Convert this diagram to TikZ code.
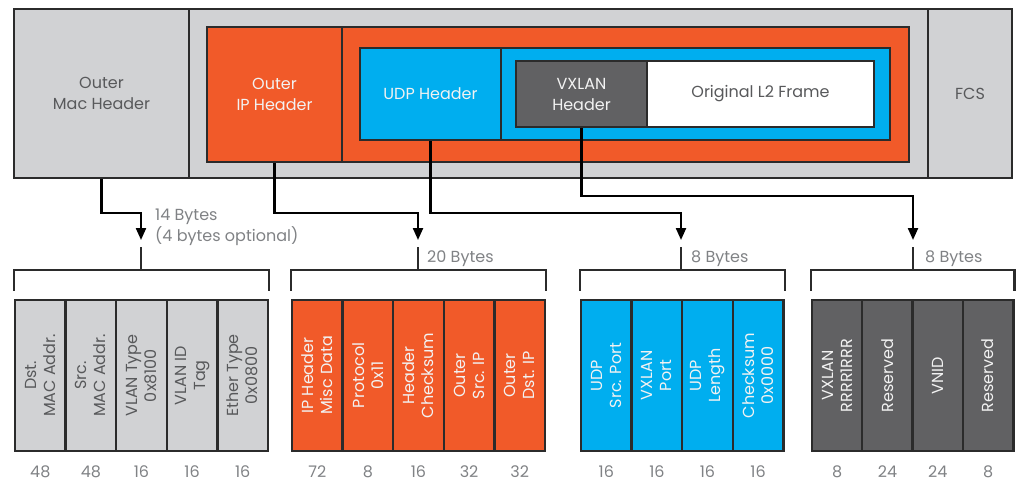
\documentclass[tikz,border=0pt]{standalone}
\usepackage{fontspec}
\setmainfont{Poppins}
\usetikzlibrary{arrows.meta,positioning}

\definecolor{hdrgray}{HTML}{D1D2D4}
\definecolor{iporange}{HTML}{F15A29}
\definecolor{udpblue}{HTML}{00AEEF}
\definecolor{vxgray}{HTML}{616163}
\definecolor{edgecol}{HTML}{2B2B2B}
\definecolor{txtgray}{HTML}{58595B}
\definecolor{numgray}{HTML}{808285}
\definecolor{lighttxt}{HTML}{F2F2F2}

\begin{document}
\begin{tikzpicture}[
        x=1pt, y=-1pt,
        every node/.style={font=\fontsize{16}{21}\selectfont},
        box/.style={draw=edgecol, line width=2.4pt, inner sep=0pt, align=center},
        field/.style={box, rotate=90, minimum width=151pt, minimum height=50.6pt, font=\fontsize{16}{19}\selectfont},
        link/.style={line width=2.2pt, -{Triangle[length=12pt,width=10pt]}},
        brk/.style={draw=edgecol, line width=2.2pt},
        num/.style={text=numgray, inner sep=0pt},
        bytes/.style={text=numgray, align=left, anchor=base west, inner sep=0pt},
    ]
    \useasboundingbox (0,0) rectangle (1016,482);

    % frame
    \node[box, fill=hdrgray, text=txtgray, minimum width=175pt, minimum height=169pt] (mac) at (101.5,93.5) {Outer\\Mac Header};
    \node[box, fill=hdrgray, minimum width=739pt, minimum height=169pt] (mid) at (558.5,93.5) {};
    \node[box, fill=hdrgray, text=txtgray, minimum width=84pt, minimum height=169pt] (fcs) at (970,93.5) {FCS};
    \node[box, fill=iporange, text=lighttxt, minimum width=135pt, minimum height=135pt] (iphdr) at (274.5,94.5) {Outer\\IP Header};
    \node[box, fill=iporange, minimum width=567pt, minimum height=135pt] (ippay) at (625.5,94.5) {};
    \node[box, fill=udpblue, text=lighttxt, minimum width=141pt, minimum height=92pt] (udp) at (430.5,94) {UDP Header};
    \node[box, fill=udpblue, minimum width=389pt, minimum height=92pt] (udppay) at (695.5,94) {};
    \node[box, fill=vxgray, text=lighttxt, minimum width=131pt, minimum height=66pt] (vxlan) at (581.5,94) {VXLAN\\Header};
    \node[box, fill=white, text=txtgray, minimum width=227pt, minimum height=66pt] (l2) at (760.5,94) {Original L2 Frame};

    % arrow ends
    \coordinate (macin) at (141,240);
    \coordinate (ipin) at (418,240);
    \coordinate (udpin) at (681,240);
    \coordinate (vxin) at (913,240);

    \draw[link] (mac.south) -- ++(0,34) -| (macin);
    \draw[link] (iphdr.south) -- ++(0,50) -| (ipin);
    \draw[link] (udp.south) -- ++(0,72) -| (udpin);
    \draw[link] (vxlan.south) -- ++(0,68) -| (vxin);

    % fields
    \foreach \lbl/\bits [count=\i] in {{Dst.\\MAC Addr.}/48, {Src.\\MAC Addr.}/48, {VLAN Type\\0x8100}/16, {VLAN ID\\Tag}/16, {Ether Type\\0x0800}/16}{
        \node[field, fill=hdrgray, text=txtgray] (m\i) at (15+50.6*\i-25.3,375.5) {\lbl};
        \node[num] (mb\i) at (15+50.6*\i-25.3,472) {\bits};
    }
    \foreach \lbl/\bits [count=\i] in {{IP Header\\Misc Data}/72, {Protocol\\0x11}/8, {Header\\Checksum}/16, {Outer\\Src. IP}/32, {Outer\\Dst. IP}/32}{
        \node[field, fill=iporange, text=lighttxt] (p\i) at (292+50.6*\i-25.3,375.5) {\lbl};
        \node[num] (pb\i) at (292+50.6*\i-25.3,472) {\bits};
    }
    \foreach \lbl/\bits [count=\i] in {{UDP\\Src. Port}/16, {VXLAN\\Port}/16, {UDP\\Length}/16, {Checksum\\0x0000}/16}{
        \node[field, fill=udpblue, text=lighttxt] (u\i) at (581+50.6*\i-25.3,375.5) {\lbl};
        \node[num] (ub\i) at (581+50.6*\i-25.3,472) {\bits};
    }
    \foreach \lbl/\bits [count=\i] in {{VXLAN\\RRRR1RRR}/8, {Reserved}/24, {VNID}/24, {Reserved}/8}{
        \node[field, fill=vxgray, text=lighttxt] (v\i) at (812+50.3*\i-25.15,375.5) {\lbl};
        \node[num] (vb\i) at (812+50.3*\i-25.15,472) {\bits};
    }

    % brackets
    \draw[brk] ([yshift=8pt]m1.north east) |- ([yshift=29pt]m5.south east) -- ([yshift=8pt]m5.south east);
    \draw[brk] ([yshift=8pt]p1.north east) |- ([yshift=29pt]p5.south east) -- ([yshift=8pt]p5.south east);
    \draw[brk] ([yshift=8pt]u1.north east) |- ([yshift=29pt]u4.south east) -- ([yshift=8pt]u4.south east);
    \draw[brk] ([yshift=8pt]v1.north east) |- ([yshift=29pt]v4.south east) -- ([yshift=8pt]v4.south east);
    \draw[brk] ([yshift=-7pt]macin) -- ([yshift=-31pt]macin);
    \draw[brk] ([yshift=-7pt]ipin) -- ([yshift=-31pt]ipin);
    \draw[brk] ([yshift=-7pt]udpin) -- ([yshift=-31pt]udpin);
    \draw[brk] ([yshift=-7pt]vxin) -- ([yshift=-31pt]vxin);

    \node[bytes] (macbytes) at (155,241) {14 Bytes\\(4 bytes optional)};
    \node[bytes] (ipbytes) at (427,262) {20 Bytes};
    \node[bytes] (udpbytes) at (691,262) {8 Bytes};
    \node[bytes] (vxbytes) at (925,262) {8 Bytes};
\end{tikzpicture}
\end{document}
